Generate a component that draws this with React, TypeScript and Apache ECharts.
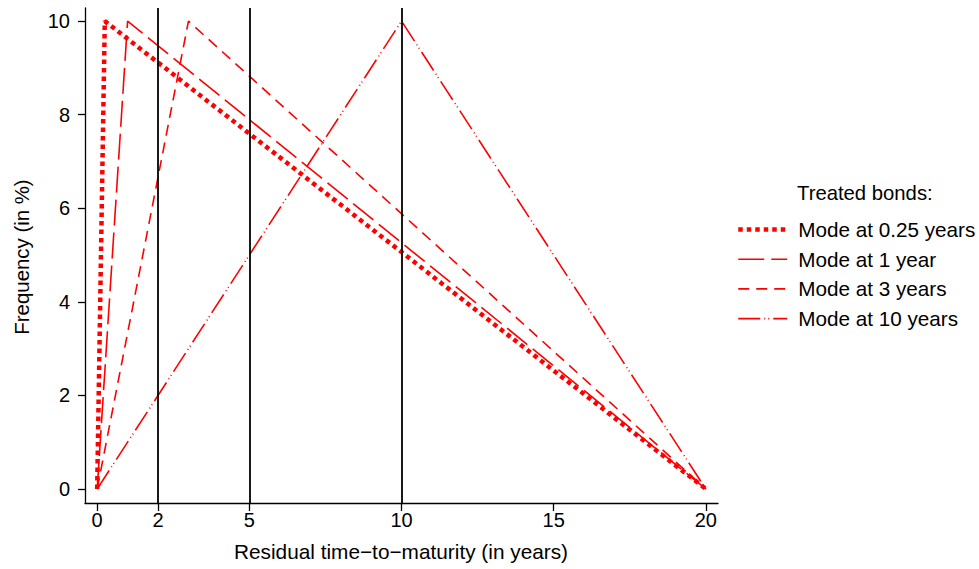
import React, { useEffect, useRef } from "react";
import * as echarts from "echarts";

const seriesNames = ["Mode at 0.25 years", "Mode at 1 year", "Mode at 3 years", "Mode at 10 years"];
const mode025X = [0, 0.25, 20];
const mode025Y = [0, 10, 0];
const mode1X = [0, 1, 20];
const mode1Y = [0, 10, 0];
const mode3X = [0, 3, 20];
const mode3Y = [0, 10, 0];
const mode10X = [0, 10, 20];
const mode10Y = [0, 10, 0];
const xTicks = [0, 2, 5, 10, 15, 20];
const yTicks = [0, 2, 4, 6, 8, 10];
const refLines = [2, 5, 10];

const FONT = '"Liberation Sans", Arial, Helvetica, sans-serif';
const RED = "#ff0000";

const zip = (xs: number[], ys: number[]) => xs.map((x, i) => [x, ys[i]]);

export default function App() {
  const ref = useRef<HTMLDivElement>(null);
  useEffect(() => {
    if (!ref.current) return;
    const chart = echarts.init(ref.current, null, { renderer: "svg" });
    const styles = [
      { width: 4.5, type: [4.5, 4] },
      { width: 1.6, type: [26, 7] },
      { width: 1.6, type: [11, 7] },
      { width: 1.6, type: [22, 4, 1, 3, 1, 4] },
    ];
    const datas = [
      zip(mode025X, mode025Y),
      zip(mode1X, mode1Y),
      zip(mode3X, mode3Y),
      zip(mode10X, mode10Y),
    ];
    const series: any[] = seriesNames.map((name, i) => ({
      name,
      type: "line",
      data: datas[i],
      symbol: "none",
      showSymbol: false,
      z: 3,
      lineStyle: { color: RED, width: styles[i].width, type: styles[i].type, cap: "butt" },
      itemStyle: { color: "rgba(0,0,0,0)", borderWidth: 0 },
    }));
    series.push({
      name: "ref",
      type: "line",
      data: [],
      z: 2,
      markLine: {
        silent: true,
        symbol: ["none", "none"],
        label: { show: false },
        lineStyle: { color: "#000", width: 1.8, type: "solid" },
        data: refLines.map((v) => ({ xAxis: v })),
      },
    });
    chart.setOption({
      animation: false,
      grid: { left: 85, top: 8, width: 633, height: 495, containLabel: false },
      xAxis: {
        type: "value",
        min: -0.4,
        max: 20.4,
        splitLine: { show: false },
        axisLine: { onZero: false, lineStyle: { color: "#000", width: 1.3 } },
        axisTick: { customValues: xTicks, length: 8, lineStyle: { color: "#000", width: 1.3 } },
        axisLabel: { customValues: xTicks, margin: 7, fontSize: 20, color: "#000", fontFamily: FONT },
      },
      yAxis: {
        type: "value",
        min: -0.3,
        max: 10.28,
        splitLine: { show: false },
        axisLine: { show: true, onZero: false, lineStyle: { color: "#000", width: 1.3 } },
        axisTick: { show: true, customValues: yTicks, length: 7, lineStyle: { color: "#000", width: 1.3 } },
        axisLabel: { customValues: yTicks, margin: 15, fontSize: 20, color: "#000", fontFamily: FONT },
      },
      legend: {
        data: seriesNames,
        orient: "vertical",
        left: 736,
        top: 219,
        padding: 0,
        itemWidth: 49,
        itemHeight: 14,
        itemGap: 8.7,
        selectedMode: false,
        lineStyle: { width: "inherit", type: "inherit", color: "inherit" },
        itemStyle: { opacity: 0, color: "rgba(0,0,0,0)", borderWidth: 0 },
        textStyle: { fontSize: 20.7, color: "#000", fontFamily: FONT, padding: [0, 0, 0, 6], lineHeight: 20 },
      },
      graphic: [
        {
          type: "text",
          x: 797,
          y: 193,
          style: {
            text: "Treated bonds:",
            font: `20.3px ${FONT}`,
            fill: "#000",
            align: "left",
            verticalAlign: "middle",
          },
        },
        {
          type: "text",
          x: 22,
          y: 257,
          rotation: Math.PI / 2,
          style: {
            text: "Frequency (in %)",
            font: `20.4px ${FONT}`,
            fill: "#000",
            align: "center",
            verticalAlign: "middle",
          },
        },
        {
          type: "text",
          x: 401,
          y: 551,
          style: {
            text: "Residual time\u2212to\u2212maturity (in years)",
            font: `20.8px ${FONT}`,
            fill: "#000",
            align: "center",
            verticalAlign: "middle",
          },
        },
      ],
      series,
    });
    return () => chart.dispose();
  }, []);
  return (
    <div
      ref={ref}
      style={{ position: "fixed", left: 0, top: 0, width: 979, height: 569, background: "#fff" }}
    />
  );
}
